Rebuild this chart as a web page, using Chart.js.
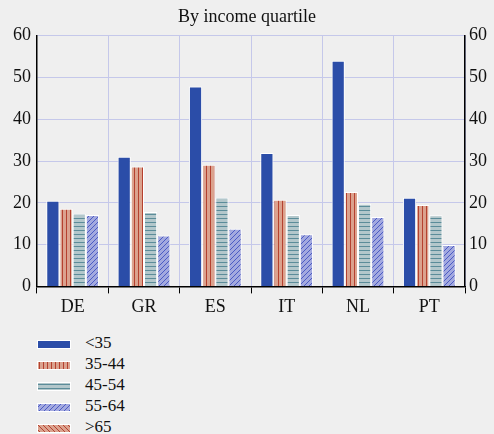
<!DOCTYPE html>
<html>
<head>
<meta charset="utf-8">
<script src="https://cdn.jsdelivr.net/npm/chart.js@4.4.1/dist/chart.umd.min.js"></script>
<style>
  html, body { margin: 0; padding: 0; background: #efefef; }
  body { width: 494px; height: 434px; position: relative; overflow: hidden; font-family: "Liberation Serif", serif; }
  #wrap { position: absolute; left: 0; top: 0; width: 494px; height: 322px; }
  #legend { position: absolute; left: 37px; top: 334px; }
  .item { position: relative; height: 21px; }
  .item canvas { position: absolute; left: 0; top: 6px; }
  .item span { position: absolute; left: 48px; top: -1px; font-size: 17px; line-height: 20px; color: #111; white-space: nowrap; }
</style>
</head>
<body>
<div id="wrap"><canvas id="chart"></canvas></div>
<div id="legend"></div>
<script>
// Datos
const categories = ["DE", "GR", "ES", "IT", "NL", "PT"];
const seriesNames = ["<35", "35-44", "45-54", "55-64", ">65"];
const under35 = [20.5, 31.0, 47.8, 31.9, 54.0, 21.2];
const age35to44 = [18.6, 28.7, 29.1, 20.7, 22.6, 19.5];
const age45to54 = [17.4, 17.8, 21.2, 17.1, 19.8, 17.0];
const age55to64 = [17.1, 12.2, 13.8, 12.5, 16.6, 9.9];
// >65 solo aparece en la leyenda; no tiene barras en el gráfico
const yTicks = [0, 10, 20, 30, 40, 50, 60];

// Patrones de relleno
function makePattern(base, line, kind) {
  const size = kind === "v" || kind === "h" ? 4 : 5;
  const c = document.createElement("canvas");
  c.width = size; c.height = size;
  const g = c.getContext("2d");
  g.fillStyle = base;
  g.fillRect(0, 0, size, size);
  g.fillStyle = line;
  g.strokeStyle = line;
  g.lineWidth = 1;
  if (kind === "v") g.fillRect(2, 0, 1, size);
  else if (kind === "h") g.fillRect(0, 2, size, 1);
  else {
    g.beginPath();
    if (kind === "/") {
      g.moveTo(-1, size + 1); g.lineTo(size + 1, -1);
    } else {
      g.moveTo(-1, -1); g.lineTo(size + 1, size + 1);
    }
    g.stroke();
  }
  return document.createElement("canvas").getContext("2d").createPattern(c, "repeat");
}

const fills = [
  "#2b4da8",
  makePattern("#dba28e", "#b5412f", "v"),
  makePattern("#b3c7cb", "#5b8c99", "h"),
  makePattern("#a3a9df", "#4c5cc4", "/"),
  makePattern("#dba28e", "#b5412f", "\\")
];
const values = [under35, age35to44, age45to54, age55to64];

const datasets = values.map((data, i) => ({
  label: seriesNames[i],
  data,
  backgroundColor: fills[i],
  borderColor: "#ffffff",
  borderWidth: 1,
  borderSkipped: "bottom",
  categoryPercentage: 0.74,
  barPercentage: 1.0
}));

const serif = "'Liberation Serif', 'Times New Roman', serif";
const gridColor = "#c5c8ea";

new Chart(document.getElementById("chart"), {
  type: "bar",
  data: { labels: categories, datasets },
  options: {
    responsive: true,
    maintainAspectRatio: false,
    animation: false,
    layout: { padding: { left: 0, right: 0, top: 0, bottom: 1 } },
    plugins: {
      legend: { display: false },
      tooltip: { enabled: false },
      title: {
        display: true,
        text: "By income quartile",
        color: "#111",
        font: { family: serif, size: 18, weight: "normal" },
        padding: { top: 6, bottom: 8 }
      }
    },
    scales: {
      x: {
        offset: true,
        grid: { offset: true, color: gridColor, tickColor: "#000", tickLength: 7, lineWidth: 1 },
        border: { color: "#000", width: 1.5 },
        ticks: { color: "#111", font: { family: serif, size: 18 }, padding: 3 }
      },
      y: {
        position: "left",
        min: 0, max: 60,
        afterBuildTicks: s => { s.ticks = yTicks.map(v => ({ value: v })); },
        afterFit: s => { s.width = 37; },
        grid: { color: gridColor, drawTicks: false },
        border: { color: "#000", width: 1.5 },
        ticks: { color: "#111", font: { family: serif, size: 18 }, padding: 6 }
      },
      y2: {
        position: "right",
        min: 0, max: 60,
        afterBuildTicks: s => { s.ticks = yTicks.map(v => ({ value: v })); },
        afterFit: s => { s.width = 29; },
        grid: { drawOnChartArea: false, drawTicks: false },
        border: { color: "#000", width: 1.5 },
        ticks: { color: "#111", font: { family: serif, size: 18 }, padding: 4 }
      }
    }
  }
});

// Leyenda vertical en HTML
const legend = document.getElementById("legend");
seriesNames.forEach((name, i) => {
  const row = document.createElement("div");
  row.className = "item";
  const sw = document.createElement("canvas");
  sw.width = 34; sw.height = 9;
  const g = sw.getContext("2d");
  g.fillStyle = "#ffffff";
  g.fillRect(0, 0, 34, 9);
  g.fillStyle = fills[i];
  g.fillRect(1, 1, 32, 7);
  const label = document.createElement("span");
  label.textContent = name;
  row.appendChild(sw);
  row.appendChild(label);
  legend.appendChild(row);
});
</script>
</body>
</html>
